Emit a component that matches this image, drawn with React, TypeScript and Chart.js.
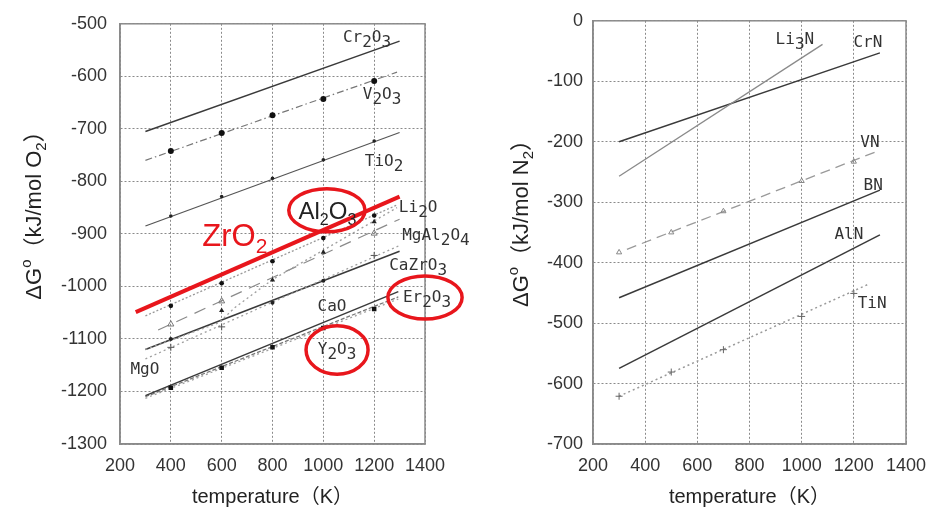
import React, { useEffect, useRef } from "react";
import { Chart, registerables } from "chart.js";

Chart.register(...registerables);

// ---------------- data : left panel (oxides, kJ/mol O2) ----------------
const markT = [400, 600, 800, 1000, 1200];

const cr2o3T = [300, 1300];
const cr2o3G = [-705, -533];
const v2o3T = [300, 1290];
const v2o3G = [-760, -592];
const v2o3Marks = [-742, -708, -674, -643, -609];
const tio2T = [300, 1300];
const tio2G = [-885, -707];
const tio2Marks = [-866, -829, -794, -759, -723];
const al2o3T = [300, 1290];
const al2o3G = [-1056, -845];
const al2o3Marks = [-1037, -994, -952, -908, -865];
const li2oT = [300, 590, 650, 800, 1290];
const li2oG = [-1120, -1069, -1041, -987, -850];
const li2oMarks = [null, -1046, -988, -935, -877];
const mgal2o4T = [350, 1300];
const mgal2o4G = [-1083, -872];
const mgal2o4Marks = [-1072, -1028, null, null, -899];
const mgoT = [300, 1300];
const mgoG = [-1138, -922];
const mgoMarks = [-1116, -1077, null, null, -941];
const cazro3T = [300, 1300];
const cazro3G = [-1120, -933];
const cazro3Marks = [-1100, null, -1031, -989, null];
const caoT = [300, 1295];
const caoG = [-1208, -1010];
const y2o3T = [300, 1295];
const y2o3G = [-1210, -1020];
const y2o3Marks = [-1193, -1155, -1116, -1079, -1043];
const er2o3T = [300, 1295];
const er2o3G = [-1213, -1024];
const zro2T = [262, 1300];
const zro2G = [-1049, -829];

// ---------------- data : right panel (nitrides, kJ/mol N2) ----------------
const li3nT = [300, 1080];
const li3nG = [-257, -39];
const crnT = [300, 1300];
const crnG = [-200, -53];
const vnT = [330, 1300];
const vnG = [-378, -214];
const vnMarkT = [300, 500, 700, 1000, 1200];
const vnMarks = [-383, -350, -315, -265, -233];
const bnT = [300, 1300];
const bnG = [-458, -280];
const alnT = [300, 1300];
const alnG = [-575, -354];
const tinT = [300, 1260];
const tinG = [-621, -435];
const tinMarkT = [300, 500, 700, 1000, 1200];
const tinMarks = [-621, -581, -544, -489, -451];

// ---------------- labels (data coordinates) ----------------
const leftLabels = [
  { text: "Cr_2O_3", t: 1172, g: -523 },
  { text: "V_2O_3", t: 1231, g: -633 },
  { text: "TiO_2", t: 1239, g: -759 },
  { text: "Li_2O", t: 1373, g: -848 },
  { text: "MgAl_2O_4", t: 1443, g: -901 },
  { text: "CaZrO_3", t: 1373, g: -958 },
  { text: "Er_2O_3", t: 1408, g: -1018 },
  { text: "CaO", t: 1034, g: -1036 },
  { text: "Y_2O_3", t: 1054, g: -1118 },
  { text: "MgO", t: 298, g: -1155 },
];
const rightLabels = [
  { text: "Li_3N", t: 974, g: -29 },
  { text: "CrN", t: 1254, g: -34 },
  { text: "VN", t: 1262, g: -199 },
  { text: "BN", t: 1274, g: -271 },
  { text: "AlN", t: 1181, g: -352 },
  { text: "TiN", t: 1270, g: -465 },
];
const noteLabels = [{ text: "Al_2O_3", t: 1016, g: -855 }];
const redLabels = [{ text: "ZrO_2", t: 652, g: -902 }];
const redEllipses = [
  { t: 1014, g: -855, rt: 150, rg: 41 },
  { t: 1400, g: -1021, rt: 146, rg: 41 },
  { t: 1054, g: -1121, rt: 122, rg: 46 },
];

// ---------------- styles ----------------
const RED = "#e8161c";
const DARK = "#3a3a3a";
const GRID = "#8a8a8a";
const FRAME = "#8a8a8a";
const SANS = "'Liberation Sans', Arial, 'Noto Sans CJK JP', sans-serif";
const MONO = "'DejaVu Sans Mono', 'Liberation Mono', monospace";

type Part = { t: string; k: number };
function parseRich(s: string): Part[] {
  const parts: Part[] = [];
  let buf = "";
  let i = 0;
  while (i < s.length) {
    const c = s[i];
    if ((c === "_" || c === "^") && i + 1 < s.length) {
      if (buf) parts.push({ t: buf, k: 0 });
      buf = "";
      parts.push({ t: s[i + 1], k: c === "_" ? 1 : -1 });
      i += 2;
    } else {
      buf += c;
      i++;
    }
  }
  if (buf) parts.push({ t: buf, k: 0 });
  return parts;
}

type RichStyle = { family: string; size: number; small: number; sub: number; sup: number; color: string };
function drawRich(ctx: CanvasRenderingContext2D, text: string, cx: number, cy: number, st: RichStyle) {
  const parts = parseRich(text);
  const fontOf = (k: number) => `${k === 0 ? st.size : st.small}px ${st.family}`;
  let total = 0;
  const widths = parts.map((p) => {
    ctx.font = fontOf(p.k);
    const w = ctx.measureText(p.t).width;
    total += w;
    return w;
  });
  let x = cx - total / 2;
  const base = cy + st.size * 0.36;
  ctx.fillStyle = st.color;
  ctx.textAlign = "left";
  ctx.textBaseline = "alphabetic";
  parts.forEach((p, i) => {
    ctx.font = fontOf(p.k);
    const dy = p.k === 1 ? st.sub : p.k === -1 ? -st.sup : 0;
    ctx.fillText(p.t, x, base + dy);
    x += widths[i];
  });
}

const pts = (ts: number[], gs: (number | null)[]) =>
  ts.map((t, i) => ({ x: t, y: gs[i] })).filter((p) => p.y !== null);

const line = (label: string, ts: number[], gs: number[], color: string, width: number, dash: number[]) => ({
  label,
  data: pts(ts, gs),
  showLine: true,
  borderColor: color,
  borderWidth: width,
  borderDash: dash,
  pointRadius: 0,
  pointHoverRadius: 0,
  fill: false,
  tension: 0,
});

const marks = (
  label: string,
  ts: number[],
  gs: (number | null)[],
  style: string,
  radius: number,
  fillColor: string,
  stroke: string,
  bw: number
) => ({
  label,
  data: pts(ts, gs),
  showLine: false,
  pointStyle: style,
  pointRadius: radius,
  pointHoverRadius: radius,
  pointBackgroundColor: fillColor,
  pointBorderColor: stroke,
  pointBorderWidth: bw,
});

const CLEAR = "rgba(255,255,255,0)";

const leftDatasets = [
  line("ZrO2", zro2T, zro2G, RED, 4, []),
  marks("V2O3 data", markT, v2o3Marks, "circle", 3, "#111", "#111", 0),
  marks("TiO2 data", markT, tio2Marks, "circle", 1.8, "#222", "#222", 0),
  marks("Al2O3 data", markT, al2o3Marks, "circle", 2.3, "#111", "#111", 0),
  marks("Li2O data", markT, li2oMarks, "triangle", 3, "#222", "#222", 0),
  marks("MgAl2O4 data", markT, mgal2o4Marks, "triangle", 3.5, CLEAR, "#777", 1),
  marks("MgO data", markT, mgoMarks, "cross", 3.5, "#555", "#555", 1),
  marks("CaZrO3 data", markT, cazro3Marks, "circle", 2, "#222", "#222", 0),
  marks("Y2O3 data", markT, y2o3Marks, "rect", 3.2, "#111", "#111", 0),
  line("Cr2O3", cr2o3T, cr2o3G, DARK, 1.5, []),
  line("V2O3", v2o3T, v2o3G, "#777", 1.2, [7, 3, 1.5, 3]),
  line("TiO2", tio2T, tio2G, "#555", 1.2, []),
  line("Al2O3", al2o3T, al2o3G, "#999", 1.3, [2, 2]),
  line("Li2O", li2oT, li2oG, "#a0a0a0", 1.3, [2, 3]),
  line("MgAl2O4", mgal2o4T, mgal2o4G, "#8a8a8a", 1.2, [12, 8]),
  line("MgO", mgoT, mgoG, "#a0a0a0", 1.3, [2, 3]),
  line("CaZrO3", cazro3T, cazro3G, DARK, 1.5, []),
  line("CaO", caoT, caoG, DARK, 1.5, []),
  line("Y2O3", y2o3T, y2o3G, "#777", 1.3, [4, 2]),
  line("Er2O3", er2o3T, er2o3G, "#a0a0a0", 1.3, [2, 3]),
];

const rightDatasets = [
  marks("VN data", vnMarkT, vnMarks, "triangle", 3, CLEAR, "#888", 1),
  marks("TiN data", tinMarkT, tinMarks, "cross", 3.5, "#666", "#666", 1),
  line("Li3N", li3nT, li3nG, "#8a8a8a", 1.3, []),
  line("CrN", crnT, crnG, DARK, 1.5, []),
  line("VN", vnT, vnG, "#9a9a9a", 1.3, [10, 6]),
  line("BN", bnT, bnG, DARK, 1.5, []),
  line("AlN", alnT, alnG, DARK, 1.5, []),
  line("TiN", tinT, tinG, "#9a9a9a", 1.5, [2, 3]),
];

type PanelDef = {
  datasets: any[];
  xMin: number;
  xMax: number;
  yMin: number;
  yMax: number;
  yWidth: number;
  padRight: number;
  padTop: number;
  tickPad: number;
  yTitle: string;
  yTitleX: number;
  yTitleY: number;
  labels: { text: string; t: number; g: number }[];
  notes: { text: string; t: number; g: number }[];
  reds: { text: string; t: number; g: number }[];
  ellipses: { t: number; g: number; rt: number; rg: number }[];
};

function decorPlugin(p: PanelDef) {
  return {
    id: "decor",
    afterDatasetsDraw(chart: any) {
      const { ctx, chartArea } = chart;
      const xs = chart.scales.x;
      const ys = chart.scales.y;
      ctx.save();
      ctx.setLineDash([]);
      ctx.strokeStyle = FRAME;
      ctx.lineWidth = 1.5;
      ctx.strokeRect(chartArea.left, chartArea.top, chartArea.right - chartArea.left, chartArea.bottom - chartArea.top);
      p.labels.forEach((l) => {
        drawRich(ctx, l.text, xs.getPixelForValue(l.t), ys.getPixelForValue(l.g), {
          family: MONO, size: 16, small: 16, sub: 5, sup: 5, color: "#333",
        });
      });
      p.notes.forEach((l) => {
        drawRich(ctx, l.text, xs.getPixelForValue(l.t), ys.getPixelForValue(l.g), {
          family: SANS, size: 24, small: 16, sub: 6, sup: 8, color: "#222",
        });
      });
      p.reds.forEach((l) => {
        drawRich(ctx, l.text, xs.getPixelForValue(l.t), ys.getPixelForValue(l.g), {
          family: SANS, size: 31, small: 21, sub: 7, sup: 10, color: RED,
        });
      });
      p.ellipses.forEach((e) => {
        const cx = xs.getPixelForValue(e.t);
        const cy = ys.getPixelForValue(e.g);
        const rx = Math.abs(xs.getPixelForValue(e.t + e.rt) - cx);
        const ry = Math.abs(ys.getPixelForValue(e.g + e.rg) - cy);
        ctx.beginPath();
        ctx.ellipse(cx, cy, rx, ry, 0, 0, Math.PI * 2);
        ctx.strokeStyle = RED;
        ctx.lineWidth = 3.5;
        ctx.stroke();
      });
      ctx.translate(p.yTitleX, p.yTitleY);
      ctx.rotate(-Math.PI / 2);
      drawRich(ctx, p.yTitle, 0, 0, { family: SANS, size: 22, small: 15, sub: 5, sup: 10, color: "#222" });
      ctx.restore();
    },
  };
}

function buildConfig(p: PanelDef): any {
  const tickFont = { family: SANS, size: 18 };
  const plain = (v: any) => String(v);
  return {
    type: "scatter",
    data: { datasets: p.datasets },
    options: {
      responsive: false,
      animation: false,
      events: [],
      layout: { padding: { left: 0, right: p.padRight, top: p.padTop, bottom: 0 } },
      plugins: { legend: { display: false }, tooltip: { enabled: false } },
      scales: {
        x: {
          type: "linear",
          min: p.xMin,
          max: p.xMax,
          ticks: { stepSize: 200, padding: 11, autoSkip: false, maxRotation: 0, color: "#333", font: tickFont, callback: plain },
          grid: { color: GRID, lineWidth: 1, drawTicks: false },
          border: { display: true, color: FRAME, width: 1.5, dash: [2, 2] },
          title: {
            display: true,
            text: "temperature（K）",
            color: "#222",
            font: { family: SANS, size: 20, lineHeight: 1.2 },
            padding: { top: 0, bottom: 4 },
          },
          afterFit: (s: any) => {
            s.height = 69;
          },
        },
        y: {
          type: "linear",
          min: p.yMin,
          max: p.yMax,
          ticks: { stepSize: 100, padding: p.tickPad, autoSkip: false, color: "#333", font: tickFont, callback: plain },
          grid: { color: GRID, lineWidth: 1, drawTicks: false },
          border: { display: true, color: FRAME, width: 1.5, dash: [2, 2] },
          afterFit: (s: any) => {
            s.width = p.yWidth;
          },
        },
      },
    },
    plugins: [decorPlugin(p)],
  };
}

const leftPanel: PanelDef = {
  datasets: leftDatasets,
  xMin: 200,
  xMax: 1400,
  yMin: -1300,
  yMax: -500,
  yWidth: 120,
  padRight: 55,
  padTop: 14,
  tickPad: 13,
  yTitle: "ΔG^o（kJ/mol O_2）",
  yTitleX: 33,
  yTitleY: 210,
  labels: leftLabels,
  notes: noteLabels,
  reds: redLabels,
  ellipses: redEllipses,
};

const rightPanel: PanelDef = {
  datasets: rightDatasets,
  xMin: 200,
  xMax: 1400,
  yMin: -700,
  yMax: 0,
  yWidth: 113,
  padRight: 41,
  padTop: 15,
  tickPad: 10,
  yTitle: "ΔG^o（kJ/mol N_2）",
  yTitleX: 40,
  yTitleY: 218,
  labels: rightLabels,
  notes: [],
  reds: [],
  ellipses: [],
};

function Panel({ def, left, width }: { def: PanelDef; left: number; width: number }) {
  const ref = useRef<HTMLCanvasElement | null>(null);
  useEffect(() => {
    if (!ref.current) return;
    const chart = new Chart(ref.current, buildConfig(def));
    return () => chart.destroy();
  }, [def]);
  return (
    <canvas
      ref={ref}
      width={width}
      height={513}
      style={{ position: "absolute", left, top: 0, width, height: 513 }}
    />
  );
}

export default function App() {
  return (
    <div style={{ position: "fixed", left: 0, top: 0, width: 947, height: 513, background: "#fff" }}>
      <Panel def={leftPanel} left={0} width={480} />
      <Panel def={rightPanel} left={480} width={467} />
    </div>
  );
}
